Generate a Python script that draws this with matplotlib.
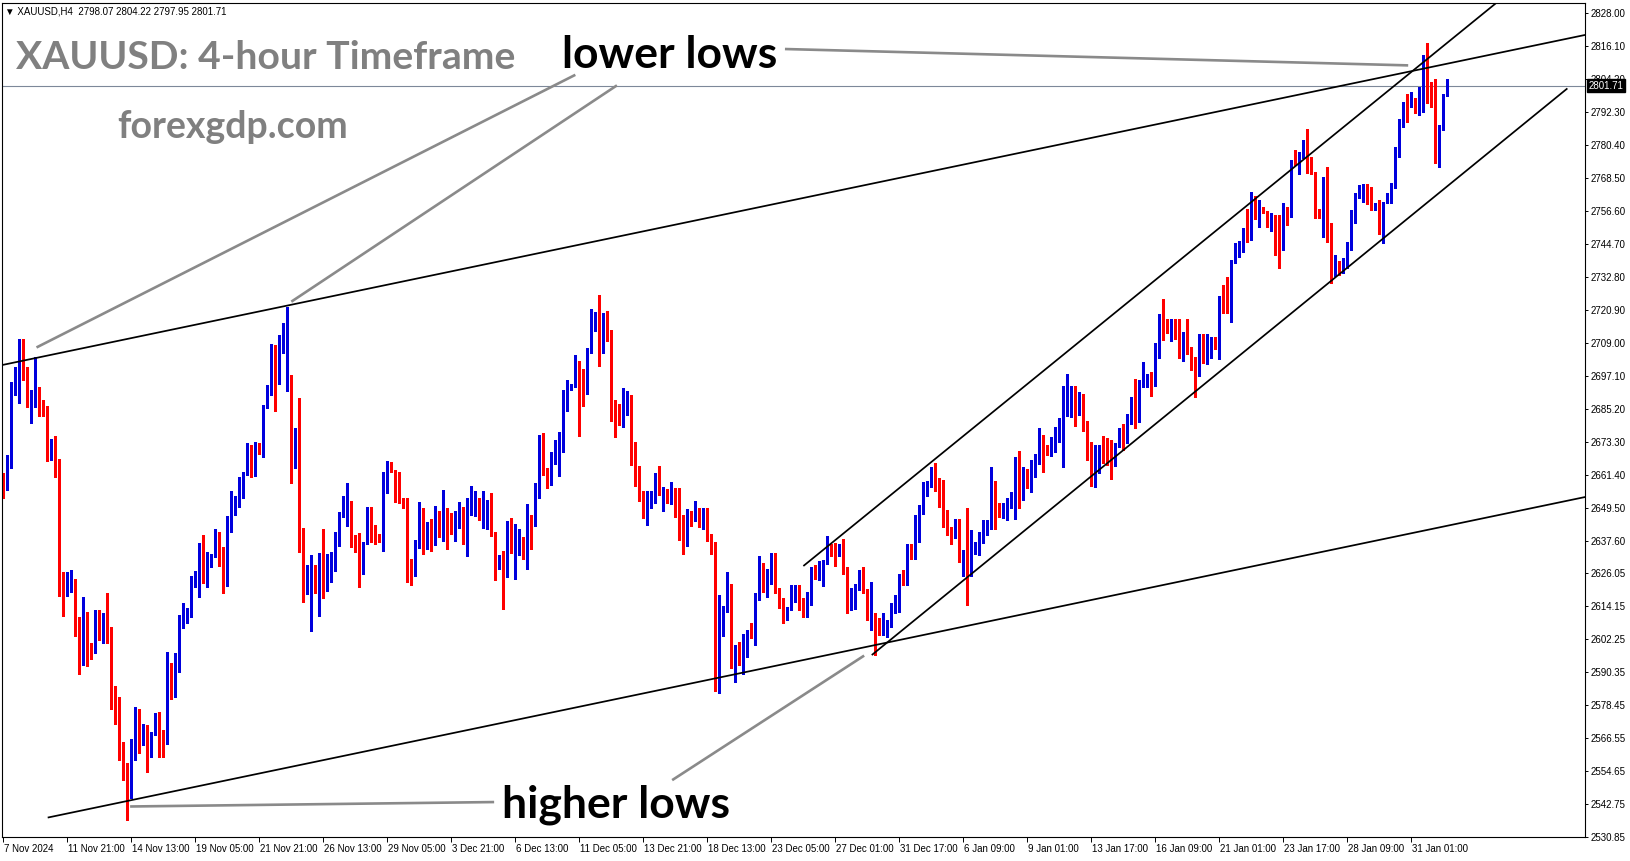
"""XAUUSD H4 chart with channel trend lines, rebuilt from a MetaTrader screenshot.

Run:
    python plot.py
"""

import matplotlib.pyplot as plt
import numpy as np
from matplotlib.transforms import ScaledTranslation

# OHLC of each 4-hour bar (bar 0 = 7 Nov 2024 05:00)
OPENS = [
    2660.0, 2656.6, 2666.5, 2692.0, 2695.4, 2705.0, 2697.7, 2686.2, 2688.6, 2691.6,
    2685.1, 2682.6, 2671.9, 2673.5, 2662.1, 2622.7, 2619.0, 2619.2, 2622.0, 2608.0,
    2596.4, 2610.4, 2599.4, 2598.2, 2612.4, 2605.2, 2609.2, 2602.0, 2583.0, 2572.6,
    2560.5, 2555.3, 2547.1, 2559.5, 2570.2, 2565.1, 2570.5, 2561.2, 2567.8, 2572.9,
    2567.9, 2564.5, 2591.2, 2586.2, 2594.0, 2608.0, 2611.0, 2611.6, 2622.7, 2625.0,
    2635.2, 2623.4, 2630.3, 2631.8, 2640.5, 2629.4, 2625.0, 2643.3, 2648.4, 2650.1,
    2653.5, 2661.6, 2669.9, 2664.9, 2672.5, 2669.4, 2686.0, 2692.8, 2707.8, 2694.3,
    2710.9, 2691.9, 2695.8, 2666.7, 2677.9, 2641.7, 2618.6, 2625.2, 2625.6, 2621.6,
    2631.5, 2622.5, 2623.1, 2632.4, 2637.5, 2647.8, 2648.7, 2651.7, 2638.9, 2638.4,
    2628.0, 2637.0, 2647.7, 2641.5, 2639.9, 2637.6, 2657.7, 2665.7, 2662.7, 2653.7,
    2652.6, 2652.5, 2626.7, 2625.6, 2635.4, 2645.5, 2636.9, 2639.3, 2636.6, 2647.2,
    2642.4, 2646.9, 2645.9, 2642.7, 2645.5, 2649.3, 2644.1, 2648.4, 2648.7, 2649.6,
    2646.3, 2646.5, 2648.9, 2640.2, 2629.2, 2631.8, 2625.2, 2639.3, 2634.0, 2635.4,
    2637.5, 2633.0, 2646.0, 2643.6, 2657.4, 2674.3, 2663.1, 2660.9, 2669.1, 2669.7,
    2675.5, 2688.9, 2692.3, 2693.5, 2699.1, 2696.5, 2694.1, 2706.1, 2714.2, 2717.5,
    2705.8, 2718.6, 2711.8, 2686.5, 2684.4, 2680.9, 2686.6, 2689.8, 2666.7, 2660.2,
    2654.4, 2650.5, 2651.7, 2653.5, 2659.1, 2654.7, 2655.6, 2652.3, 2655.2, 2649.0,
    2638.2, 2636.4, 2647.2, 2646.3, 2647.5, 2646.5, 2648.7, 2638.2, 2636.6, 2585.3,
    2612.0, 2612.6, 2619.5, 2592.2, 2600.0, 2594.3, 2597.0, 2604.7, 2604.2, 2616.8,
    2626.2, 2620.8, 2625.8, 2631.6, 2619.2, 2616.0, 2610.2, 2612.8, 2616.6, 2619.0,
    2615.9, 2610.8, 2617.4, 2627.9, 2625.8, 2628.5, 2629.7, 2635.4, 2635.7, 2633.0,
    2634.8, 2626.4, 2615.6, 2618.6, 2621.0, 2624.0, 2619.0, 2610.8, 2611.4, 2606.0,
    2605.6, 2607.1, 2607.8, 2612.0, 2613.6, 2625.2, 2624.4, 2634.8, 2634.0, 2642.7,
    2647.5, 2655.3, 2657.3, 2662.7, 2659.7, 2658.0, 2648.1, 2641.8, 2640.0, 2644.7,
    2631.5, 2633.9, 2631.5, 2634.2, 2635.7, 2638.1, 2640.0, 2643.9, 2658.9, 2649.3,
    2648.4, 2648.7, 2652.0, 2652.9, 2661.7, 2652.9, 2661.3, 2658.9, 2666.5, 2667.0,
    2672.5, 2671.5, 2669.7, 2673.3, 2678.1, 2680.9, 2686.8, 2687.1, 2690.1, 2688.3,
    2690.1, 2679.7, 2672.1, 2659.3, 2663.1, 2670.5, 2669.1, 2666.9, 2664.9, 2672.1,
    2679.3, 2673.3, 2681.1, 2688.6, 2682.0, 2693.7, 2694.1, 2697.6, 2693.7, 2707.8,
    2718.6, 2715.4, 2714.5, 2716.0, 2712.6, 2705.4, 2712.1, 2705.4, 2703.3, 2697.3,
    2711.8, 2708.2, 2710.2, 2710.6, 2707.6, 2724.6, 2724.1, 2719.8, 2737.8, 2744.2,
    2745.1, 2749.3, 2746.6, 2760.4, 2754.1, 2757.8, 2756.2, 2752.6, 2753.5, 2751.4,
    2746.0, 2755.9, 2754.5, 2774.5, 2773.7, 2775.8, 2778.3, 2773.4, 2769.5, 2756.2,
    2754.4, 2767.9, 2751.4, 2734.5, 2737.0, 2735.5, 2737.5, 2743.0, 2753.3, 2761.9,
    2762.9, 2764.3, 2759.3, 2758.1, 2759.3, 2750.8, 2759.6, 2760.2, 2765.3, 2778.3,
    2787.5, 2795.1, 2795.1, 2796.3, 2792.6, 2792.6, 2812.1, 2799.2, 2803.7, 2777.9,
    2786.7, 2798.07,
]
HIGHS = [
    2662.0, 2668.6, 2695.0, 2700.4, 2710.2, 2710.2, 2700.4, 2692.0, 2704.0, 2693.2,
    2688.4, 2686.2, 2674.2, 2675.4, 2667.0, 2626.3, 2626.3, 2627.0, 2623.7, 2610.2,
    2617.4, 2612.0, 2600.6, 2612.6, 2612.6, 2611.6, 2618.6, 2606.6, 2585.2, 2581.4,
    2565.1, 2557.3, 2566.0, 2577.7, 2577.1, 2571.7, 2571.1, 2568.7, 2575.6, 2575.9,
    2569.3, 2597.5, 2593.4, 2597.2, 2610.8, 2615.2, 2613.2, 2624.9, 2626.8, 2636.9,
    2639.6, 2633.6, 2633.0, 2642.0, 2640.9, 2635.4, 2646.5, 2655.6, 2653.7, 2660.7,
    2662.5, 2672.7, 2672.1, 2673.3, 2673.0, 2686.5, 2693.6, 2708.4, 2708.2, 2711.8,
    2716.0, 2722.0, 2697.3, 2678.1, 2688.9, 2642.1, 2628.8, 2632.4, 2628.8, 2633.3,
    2642.0, 2632.8, 2633.6, 2640.9, 2648.1, 2653.7, 2658.3, 2651.9, 2639.6, 2640.5,
    2637.0, 2649.6, 2649.6, 2643.3, 2640.2, 2662.5, 2666.3, 2666.1, 2663.0, 2662.5,
    2652.9, 2652.9, 2631.2, 2637.9, 2651.7, 2649.3, 2644.5, 2645.4, 2650.1, 2648.4,
    2655.9, 2649.3, 2647.5, 2648.4, 2651.5, 2649.8, 2653.2, 2657.3, 2655.6, 2652.9,
    2655.6, 2652.3, 2654.9, 2640.6, 2632.4, 2634.0, 2644.8, 2645.9, 2643.6, 2641.8,
    2639.0, 2650.8, 2646.9, 2658.3, 2675.7, 2676.5, 2663.7, 2669.7, 2673.9, 2676.7,
    2691.9, 2695.5, 2694.1, 2704.6, 2702.5, 2699.7, 2707.0, 2721.0, 2720.1, 2726.2,
    2719.6, 2720.4, 2713.6, 2688.3, 2686.9, 2692.8, 2691.7, 2690.1, 2673.2, 2664.5,
    2655.6, 2655.6, 2655.6, 2662.1, 2664.6, 2657.1, 2656.1, 2658.9, 2656.8, 2656.8,
    2646.9, 2649.0, 2648.4, 2652.0, 2649.3, 2649.5, 2649.3, 2640.0, 2637.2, 2618.0,
    2614.0, 2626.2, 2622.0, 2600.2, 2601.2, 2604.0, 2605.6, 2608.0, 2618.6, 2632.1,
    2629.7, 2627.6, 2633.3, 2633.3, 2620.4, 2616.8, 2613.8, 2621.6, 2621.6, 2621.6,
    2616.8, 2619.2, 2628.3, 2628.8, 2630.4, 2630.6, 2639.3, 2636.6, 2636.9, 2636.6,
    2638.1, 2628.0, 2620.4, 2622.0, 2627.0, 2628.2, 2620.1, 2622.6, 2611.6, 2609.6,
    2611.4, 2609.2, 2615.3, 2618.0, 2625.6, 2627.0, 2636.6, 2636.6, 2646.9, 2650.5,
    2658.9, 2659.2, 2664.1, 2665.5, 2660.4, 2659.5, 2648.7, 2642.7, 2645.3, 2645.3,
    2634.2, 2649.5, 2641.5, 2637.3, 2640.9, 2645.1, 2645.1, 2664.1, 2659.2, 2651.3,
    2651.3, 2653.2, 2655.3, 2667.9, 2669.9, 2664.1, 2663.3, 2666.9, 2668.9, 2678.1,
    2675.7, 2672.1, 2675.1, 2678.7, 2681.7, 2693.4, 2697.9, 2693.4, 2693.4, 2691.3,
    2690.7, 2680.9, 2673.3, 2672.1, 2672.1, 2675.3, 2674.5, 2674.1, 2673.0, 2678.1,
    2679.7, 2683.3, 2689.5, 2695.9, 2695.5, 2702.2, 2697.9, 2698.5, 2708.8, 2719.3,
    2724.6, 2717.4, 2717.4, 2717.4, 2717.4, 2713.0, 2717.4, 2707.3, 2704.0, 2712.1,
    2712.1, 2712.1, 2711.2, 2711.2, 2725.8, 2729.8, 2732.8, 2738.8, 2745.1, 2745.8,
    2750.2, 2757.4, 2763.4, 2761.9, 2760.4, 2758.1, 2756.5, 2755.6, 2755.0, 2755.0,
    2759.3, 2758.1, 2774.9, 2778.5, 2777.9, 2782.0, 2785.9, 2776.1, 2770.7, 2757.4,
    2768.9, 2772.5, 2752.0, 2740.5, 2738.5, 2739.5, 2745.4, 2756.9, 2762.9, 2765.9,
    2766.2, 2766.2, 2765.3, 2759.5, 2760.5, 2759.9, 2762.9, 2766.5, 2779.7, 2789.5,
    2795.9, 2798.7, 2799.5, 2797.1, 2801.3, 2812.7, 2816.9, 2803.1, 2804.0, 2787.5,
    2798.7, 2804.22,
]
LOWS = [
    2653.0, 2656.0, 2663.8, 2690.2, 2687.4, 2695.6, 2686.0, 2680.2, 2686.0, 2682.6,
    2682.6, 2666.5, 2666.7, 2660.7, 2617.7, 2610.6, 2617.7, 2619.2, 2603.2, 2589.5,
    2592.8, 2592.4, 2594.8, 2597.2, 2601.8, 2600.8, 2600.6, 2577.1, 2571.7, 2558.5,
    2551.5, 2537.0, 2544.7, 2558.5, 2561.2, 2563.9, 2554.3, 2559.5, 2567.5, 2559.5,
    2559.5, 2564.5, 2580.4, 2581.4, 2590.4, 2606.0, 2608.0, 2610.2, 2621.0, 2617.4,
    2622.5, 2620.8, 2628.0, 2631.6, 2628.5, 2618.6, 2621.3, 2640.9, 2646.9, 2649.9,
    2653.2, 2661.3, 2660.7, 2660.9, 2668.9, 2667.9, 2685.5, 2690.1, 2684.5, 2694.1,
    2705.2, 2691.6, 2658.3, 2663.7, 2633.6, 2615.6, 2618.4, 2605.1, 2618.9, 2610.4,
    2616.8, 2619.6, 2622.8, 2626.8, 2635.7, 2646.3, 2642.9, 2635.2, 2633.6, 2620.8,
    2625.8, 2636.6, 2637.2, 2636.6, 2637.2, 2634.0, 2654.7, 2662.5, 2651.7, 2651.3,
    2649.3, 2622.8, 2621.6, 2624.9, 2635.0, 2633.0, 2634.8, 2634.0, 2636.0, 2638.8,
    2637.6, 2634.8, 2640.2, 2637.6, 2642.1, 2636.4, 2632.1, 2646.9, 2646.5, 2645.1,
    2642.1, 2641.7, 2639.3, 2623.4, 2627.6, 2613.0, 2624.4, 2633.3, 2623.8, 2632.4,
    2631.0, 2627.4, 2634.5, 2642.9, 2652.9, 2661.3, 2656.5, 2657.7, 2665.2, 2660.9,
    2669.7, 2684.5, 2691.9, 2693.1, 2675.3, 2686.2, 2690.5, 2705.4, 2713.3, 2700.6,
    2705.2, 2709.6, 2680.8, 2675.1, 2679.3, 2678.7, 2682.9, 2664.9, 2657.4, 2652.0,
    2645.9, 2643.3, 2649.5, 2651.3, 2654.1, 2648.4, 2651.3, 2650.8, 2646.3, 2637.8,
    2632.8, 2635.8, 2642.9, 2644.8, 2642.4, 2641.8, 2637.6, 2632.8, 2583.5, 2582.8,
    2603.2, 2611.8, 2591.8, 2586.8, 2592.8, 2589.5, 2595.8, 2602.4, 2600.0, 2616.4,
    2619.2, 2617.2, 2622.0, 2618.9, 2613.2, 2608.0, 2609.0, 2612.6, 2615.6, 2612.6,
    2610.2, 2610.0, 2614.4, 2624.0, 2623.4, 2621.3, 2629.4, 2632.1, 2628.5, 2632.1,
    2625.8, 2611.6, 2612.6, 2612.9, 2619.8, 2618.6, 2609.0, 2605.4, 2596.4, 2603.6,
    2603.6, 2602.8, 2606.6, 2611.4, 2612.0, 2621.6, 2621.6, 2630.9, 2631.2, 2637.3,
    2647.2, 2653.7, 2657.1, 2655.5, 2649.9, 2642.7, 2639.6, 2636.4, 2638.5, 2630.0,
    2624.9, 2614.4, 2624.9, 2632.8, 2632.4, 2636.9, 2639.6, 2641.7, 2641.7, 2646.2,
    2645.7, 2645.1, 2649.3, 2645.3, 2649.3, 2652.3, 2656.5, 2655.3, 2660.5, 2665.3,
    2662.5, 2668.5, 2668.1, 2669.7, 2673.3, 2664.1, 2682.6, 2682.3, 2678.9, 2682.9,
    2677.3, 2666.9, 2657.3, 2656.9, 2661.9, 2665.5, 2664.9, 2659.7, 2664.5, 2671.5,
    2670.5, 2672.9, 2679.7, 2678.1, 2680.5, 2693.1, 2693.1, 2689.8, 2693.4, 2703.4,
    2710.0, 2712.6, 2709.7, 2710.2, 2703.4, 2702.5, 2704.9, 2699.2, 2689.3, 2697.0,
    2701.6, 2701.3, 2703.4, 2706.6, 2703.0, 2719.8, 2719.6, 2716.6, 2737.6, 2740.0,
    2741.8, 2745.4, 2746.0, 2753.5, 2750.6, 2755.6, 2750.6, 2749.4, 2740.6, 2735.8,
    2742.4, 2751.4, 2754.2, 2773.1, 2769.8, 2775.5, 2770.1, 2769.8, 2753.8, 2753.8,
    2747.2, 2745.2, 2730.5, 2733.0, 2733.5, 2734.0, 2736.0, 2742.4, 2752.0, 2761.1,
    2759.9, 2759.0, 2756.9, 2756.9, 2748.2, 2744.8, 2759.3, 2759.3, 2764.7, 2776.1,
    2786.9, 2788.7, 2794.1, 2791.7, 2791.1, 2792.3, 2795.3, 2794.1, 2773.7, 2772.5,
    2785.7, 2797.95,
]
CLOSES = [
    2658.0, 2666.8, 2692.0, 2695.2, 2706.4, 2697.4, 2686.2, 2688.7, 2692.0, 2685.0,
    2684.1, 2671.9, 2673.7, 2661.7, 2622.5, 2618.9, 2619.6, 2622.0, 2607.8, 2596.4,
    2610.4, 2599.0, 2598.0, 2612.4, 2605.2, 2609.2, 2601.5, 2582.8, 2572.3, 2560.3,
    2554.9, 2547.1, 2560.0, 2569.9, 2564.5, 2570.5, 2561.2, 2567.9, 2572.9, 2567.3,
    2561.5, 2591.4, 2585.6, 2594.2, 2608.4, 2611.0, 2612.0, 2622.7, 2625.3, 2635.2,
    2622.7, 2630.3, 2632.1, 2640.5, 2629.4, 2625.0, 2643.3, 2648.7, 2650.1, 2653.7,
    2661.9, 2669.9, 2664.9, 2672.7, 2669.5, 2686.2, 2693.1, 2707.9, 2694.6, 2711.2,
    2715.4, 2695.5, 2666.7, 2677.9, 2641.5, 2618.9, 2625.6, 2625.6, 2622.2, 2631.5,
    2622.5, 2623.7, 2633.3, 2637.5, 2647.8, 2648.9, 2651.7, 2638.7, 2635.8, 2628.2,
    2636.6, 2647.7, 2641.2, 2639.9, 2637.6, 2657.7, 2665.5, 2662.9, 2653.5, 2652.3,
    2650.1, 2626.4, 2625.6, 2636.1, 2645.7, 2636.6, 2638.7, 2636.6, 2646.9, 2642.4,
    2646.9, 2645.3, 2643.3, 2645.9, 2649.3, 2644.1, 2649.3, 2649.0, 2650.1, 2646.3,
    2647.2, 2648.9, 2640.0, 2629.2, 2631.8, 2625.2, 2639.6, 2634.0, 2635.7, 2637.5,
    2632.4, 2646.0, 2643.6, 2657.7, 2674.3, 2662.8, 2659.8, 2669.1, 2670.3, 2675.7,
    2688.9, 2692.3, 2693.5, 2699.1, 2696.5, 2694.1, 2706.4, 2714.2, 2717.8, 2705.8,
    2718.6, 2711.5, 2686.3, 2684.1, 2680.5, 2686.9, 2689.8, 2666.5, 2659.8, 2654.3,
    2648.7, 2651.9, 2653.7, 2659.1, 2654.3, 2655.6, 2652.3, 2655.2, 2648.7, 2638.1,
    2636.4, 2647.2, 2646.3, 2647.5, 2646.5, 2648.7, 2638.1, 2636.4, 2585.0, 2612.2,
    2613.0, 2619.8, 2592.4, 2600.0, 2594.3, 2597.2, 2605.1, 2604.2, 2617.4, 2626.2,
    2622.8, 2625.8, 2631.6, 2619.2, 2615.6, 2610.0, 2612.8, 2616.8, 2619.0, 2615.6,
    2610.8, 2616.8, 2627.9, 2625.6, 2628.8, 2629.8, 2635.4, 2633.0, 2633.0, 2634.8,
    2626.4, 2615.6, 2618.6, 2621.6, 2624.0, 2618.9, 2610.8, 2611.4, 2606.0, 2605.6,
    2607.2, 2608.0, 2612.0, 2614.8, 2625.2, 2624.4, 2634.8, 2634.0, 2642.9, 2647.7,
    2655.5, 2658.0, 2662.9, 2659.7, 2657.7, 2648.1, 2641.7, 2639.6, 2644.8, 2631.5,
    2633.9, 2631.5, 2634.5, 2635.7, 2638.5, 2640.3, 2643.9, 2658.9, 2649.3, 2648.4,
    2649.3, 2652.3, 2653.2, 2661.7, 2652.9, 2661.7, 2658.9, 2666.7, 2667.5, 2672.5,
    2671.1, 2670.1, 2673.3, 2678.1, 2681.1, 2688.3, 2687.1, 2689.2, 2688.3, 2690.1,
    2679.3, 2671.7, 2660.7, 2663.3, 2670.5, 2668.9, 2666.1, 2664.9, 2672.5, 2677.5,
    2673.3, 2681.1, 2688.3, 2682.1, 2694.2, 2696.4, 2697.6, 2693.7, 2708.2, 2718.6,
    2714.8, 2714.2, 2716.0, 2712.6, 2704.0, 2711.8, 2705.2, 2702.8, 2697.3, 2711.8,
    2708.2, 2710.6, 2710.6, 2707.2, 2725.2, 2724.0, 2719.8, 2738.2, 2744.6, 2745.1,
    2749.3, 2746.6, 2760.4, 2753.8, 2757.8, 2755.9, 2752.6, 2753.2, 2751.1, 2746.0,
    2755.9, 2754.5, 2774.5, 2773.7, 2775.8, 2778.3, 2773.3, 2771.3, 2756.2, 2754.4,
    2767.9, 2751.4, 2735.0, 2737.0, 2735.5, 2737.5, 2743.6, 2753.6, 2761.9, 2763.2,
    2764.3, 2759.3, 2758.1, 2759.3, 2750.8, 2759.6, 2760.5, 2765.6, 2778.5, 2787.9,
    2795.1, 2793.8, 2796.3, 2792.3, 2794.4, 2812.5, 2798.9, 2798.7, 2777.9, 2786.7,
    2798.3, 2801.71,
]

# one time label every 16 bars, as MetaTrader prints them
DATE_STEP = 16
DATE_LABELS = [
    "7 Nov 2024", "11 Nov 21:00", "14 Nov 13:00", "19 Nov 05:00", "21 Nov 21:00",
    "26 Nov 13:00", "29 Nov 05:00", "3 Dec 21:00", "6 Dec 13:00", "11 Dec 05:00",
    "13 Dec 21:00", "18 Dec 13:00", "23 Dec 05:00", "27 Dec 01:00", "31 Dec 17:00",
    "6 Jan 09:00", "9 Jan 01:00", "13 Jan 17:00", "16 Jan 09:00", "21 Jan 01:00",
    "23 Jan 17:00", "28 Jan 09:00", "31 Jan 01:00",
]
PRICE_TICKS = [
    2828.00, 2816.10, 2804.20, 2792.30, 2780.40, 2768.50, 2756.60, 2744.70,
    2732.80, 2720.90, 2709.00, 2697.10, 2685.20, 2673.30, 2661.40, 2649.50,
    2637.60, 2626.05, 2614.15, 2602.25, 2590.35, 2578.45, 2566.55, 2554.65,
    2542.75, 2530.85,
]

# trend lines drawn on the chart: (bar index, price) at both ends
CHANNEL_BARS = {
    "wide_top": [-0.5, 395.5],
    "wide_bottom": [11.1, 395.5],
    "rise_top": [200.0, 375.0],
    "rise_bottom": [217.1, 391.0],
}
CHANNEL_PRICES = {
    "wide_top": [2700.9, 2820.0],
    "wide_bottom": [2537.8, 2653.4],
    "rise_top": [2628.5, 2833.6],
    "rise_bottom": [2596.4, 2800.7],
}
# grey pointer lines from the two captions
POINTER_BARS = [
    [195.4, 351.2], [8.3, 143.0], [72.0, 153.4], [31.7, 122.7], [167.2, 215.2],
]
POINTER_PRICES = [
    [2814.9, 2809.0], [2707.3, 2805.6], [2723.8, 2801.8], [2541.8, 2543.4],
    [2551.3, 2596.2],
]

WIDTH_PX, HEIGHT_PX = 1631, 861
UP_COLOR = "#0000dd"
DOWN_COLOR = "#ff0000"
GREY = "#808080"


def fig_point(x_px, y_px):
    """Screen pixel (from top-left) to figure fraction."""
    return x_px / WIDTH_PX, 1 - y_px / HEIGHT_PX


def main() -> None:
    opens = np.array(OPENS)
    highs = np.array(HIGHS)
    lows = np.array(LOWS)
    closes = np.array(CLOSES)
    bars = np.arange(len(closes))

    figure = plt.figure(figsize=(WIDTH_PX / 100, HEIGHT_PX / 100), dpi=100)
    left, right, top, bottom = 2.3, 1585.0, 2.7, 837.0
    axis = figure.add_axes(
        [
            left / WIDTH_PX,
            1 - bottom / HEIGHT_PX,
            (right - left) / WIDTH_PX,
            (bottom - top) / HEIGHT_PX,
        ]
    )

    colors = np.where(closes >= opens, UP_COLOR, DOWN_COLOR)
    axis.vlines(bars, lows, highs, colors=colors, linewidth=0.8,
                antialiased=False, zorder=2)
    body = np.maximum(np.abs(closes - opens), 0.3)
    axis.bar(bars, body, bottom=np.minimum(opens, closes), width=0.72,
             color=colors, linewidth=0, antialiased=False, zorder=2)

    axis.axhline(closes[-1], color="#7d8899", linewidth=0.8, zorder=1)

    for name, xs in CHANNEL_BARS.items():
        axis.plot(xs, CHANNEL_PRICES[name], color="black", linewidth=1.25,
                  solid_capstyle="butt", zorder=3)
    for xs, ys in zip(POINTER_BARS, POINTER_PRICES):
        axis.plot(xs, ys, color="#8a8a8a", linewidth=1.9,
                  solid_capstyle="butt", zorder=3)

    axis.set_xlim(-0.25, 395.4)
    axis.set_ylim(2530.8, 2831.6)

    axis.yaxis.tick_right()
    axis.set_yticks(PRICE_TICKS)
    axis.set_yticklabels([f"{p:.2f}" for p in PRICE_TICKS])
    axis.tick_params(axis="y", direction="out", length=2.5, width=0.7,
                     pad=1.5, labelsize=7, colors="black")

    axis.set_xticks(np.arange(len(DATE_LABELS)) * DATE_STEP)
    axis.set_xticklabels(DATE_LABELS, ha="left")
    axis.tick_params(axis="x", direction="out", length=3.5, width=0.7,
                     pad=1.5, labelsize=7, colors="black")
    shift = ScaledTranslation(0.01, 0, figure.dpi_scale_trans)
    for label in axis.get_xticklabels():
        label.set_transform(label.get_transform() + shift)
    for label in axis.get_xticklabels() + axis.get_yticklabels():
        label.set_family("Liberation Sans")

    for spine in axis.spines.values():
        spine.set_linewidth(0.8)
        spine.set_color("black")

    # last-price marker on the price scale (it covers part of 2804.20,
    # exactly as in the terminal)
    axis.annotate(
        f"{closes[-1]:.2f}",
        xy=(1.0, closes[-1]),
        xycoords=("axes fraction", "data"),
        xytext=(2.5, 0),
        textcoords="offset points",
        ha="left",
        va="center",
        fontsize=7,
        family="Liberation Sans",
        color="white",
        bbox={"boxstyle": "square,pad=0.12", "facecolor": "black",
              "edgecolor": "black"},
        annotation_clip=False,
        zorder=10,
    )

    header = (
        f"\u25bc XAUUSD,H4  {OPENS[-1]:.2f} {HIGHS[-1]:.2f} "
        f"{LOWS[-1]:.2f} {CLOSES[-1]:.2f}"
    )
    figure.text(*fig_point(5, 11), header, fontsize=7, va="center",
                ha="left", family=["Liberation Sans", "DejaVu Sans"])

    figure.text(*fig_point(15.6, 69), "XAUUSD: 4-hour Timeframe",
                fontsize=28.2, fontweight="bold", family="Lato", color=GREY,
                va="baseline")
    figure.text(*fig_point(117.5, 138), "forexgdp.com", fontsize=27,
                fontweight="bold", family="Lato", color=GREY, va="baseline")
    figure.text(*fig_point(562, 67.5), "lower lows", fontsize=32,
                fontweight="bold", family="Lato", color="black",
                va="baseline")
    figure.text(*fig_point(502, 817.5), "higher lows", fontsize=32,
                fontweight="bold", family="Lato", color="black",
                va="baseline")

    figure.savefig("out.png", dpi=100, facecolor="white")
    plt.close(figure)


if __name__ == "__main__":
    main()
